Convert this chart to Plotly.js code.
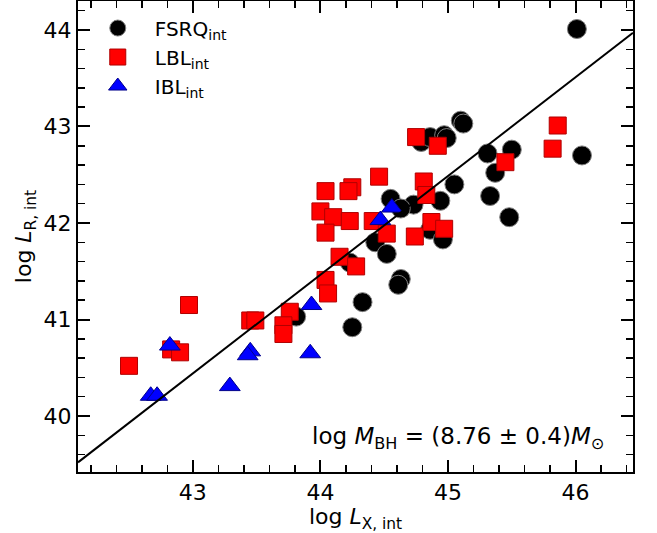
<!DOCTYPE html>
<html>
<head>
<meta charset="utf-8">
<script src="https://cdn.plot.ly/plotly-3.0.1.min.js"></script>
<style>html,body{margin:0;padding:0;background:#fff;}#chart{width:657px;height:533px;}</style>
</head>
<body>
<div id="chart"></div>
<script>
// FSRQ_int (black circles)
const fsrqX = [46.01, 46.05, 45.50, 45.31, 45.37, 45.33, 45.48, 45.05, 44.94, 44.73, 44.55, 44.63, 44.43, 44.52, 44.86, 44.96, 45.10, 45.12, 44.79, 44.86, 44.97, 44.99, 44.63, 44.61, 44.33, 44.25, 43.81, 44.23];
const fsrqY = [44.01, 42.70, 42.76, 42.72, 42.52, 42.28, 42.06, 42.40, 42.23, 42.19, 42.25, 42.15, 41.80, 41.68, 41.93, 41.83, 43.06, 43.03, 42.84, 42.89, 42.91, 42.88, 41.42, 41.36, 41.18, 40.92, 41.03, 41.59];
// LBL_int (red squares)
const lblX = [45.86, 45.82, 45.45, 44.75, 44.92, 44.46, 44.81, 44.83, 44.25, 44.22, 44.04, 44.00, 44.10, 44.23, 44.41, 44.04, 44.52, 44.74, 44.87, 44.97, 44.15, 44.28, 44.04, 44.06, 43.76, 43.71, 43.71, 43.45, 43.49, 42.97, 42.83, 42.90, 42.50];
const lblY = [43.01, 42.77, 42.63, 42.89, 42.80, 42.48, 42.43, 42.29, 42.37, 42.33, 42.33, 42.12, 42.06, 42.02, 42.02, 41.90, 41.89, 41.86, 42.01, 41.94, 41.65, 41.55, 41.41, 41.27, 41.08, 40.94, 40.85, 40.99, 40.99, 41.15, 40.69, 40.66, 40.52];
// IBL_int (blue triangles)
const iblX = [42.82, 42.67, 42.72, 43.29, 43.45, 43.43, 43.93, 43.92, 44.56, 44.47];
const iblY = [40.73, 40.21, 40.21, 40.31, 40.67, 40.63, 41.15, 40.65, 42.16, 42.03];
// best-fit line endpoints
const fitX = [42.1, 46.45];
const fitY = [39.52, 43.97];

const names = ['FSRQ<sub>int</sub>', 'LBL<sub>int</sub>', 'IBL<sub>int</sub>'];
const FONT = 'DejaVu Sans, sans-serif';

const traces = [
  {x: fsrqX, y: fsrqY, mode: 'markers', type: 'scatter', name: names[0],
   marker: {symbol: 'circle', size: 19, color: '#000000', line: {color: '#7f7f7f', width: 1}}},
  {x: lblX, y: lblY, mode: 'markers', type: 'scatter', name: names[1],
   marker: {symbol: 'square', size: 17, color: '#ff0000', line: {color: '#b00000', width: 1}}},
  {x: iblX, y: iblY, mode: 'markers', type: 'scatter', name: names[2],
   marker: {symbol: 'triangle-up', size: 18, color: '#0000ff', line: {color: '#00008b', width: 1}}},
  {x: fitX, y: fitY, mode: 'lines', type: 'scatter', showlegend: false,
   line: {color: '#000000', width: 2}}
];

const axisCommon = {
  showgrid: false, zeroline: false, showline: true, linecolor: '#000', linewidth: 2,
  mirror: 'allticks', ticks: 'inside', ticklen: 12, tickwidth: 2, tickcolor: '#000',
  tickfont: {family: FONT, size: 22, color: '#000'},
  minor: {ticks: 'inside', ticklen: 7, tickwidth: 1.5, tickcolor: '#000', dtick: 0.2, showgrid: false}
};

const layout = {
  width: 657, height: 533,
  margin: {l: 78, r: 24, t: 1, b: 61},
  paper_bgcolor: '#fff', plot_bgcolor: '#fff',
  font: {family: FONT, color: '#000'},
  xaxis: Object.assign({}, axisCommon, {
    range: [42.1, 46.45], dtick: 1, tick0: 43,
    title: {text: 'log <i>L</i><sub>X, int</sub>', font: {family: FONT, size: 22}, standoff: 0}
  }),
  yaxis: Object.assign({}, axisCommon, {
    range: [39.42, 44.3], dtick: 1, tick0: 40,
    title: {text: 'log <i>L</i><sub>R, int</sub>', font: {family: FONT, size: 22}, standoff: 6}
  }),
  showlegend: true,
  legend: {x: 0.005, y: 0.984, xanchor: 'left', yanchor: 'top', bgcolor: 'rgba(0,0,0,0)',
           borderwidth: 0, font: {family: FONT, size: 20}, itemwidth: 64, itemsizing: 'trace'},
  annotations: [{
    xref: 'paper', yref: 'paper', x: 0.952, y: 0.072, xanchor: 'right', yanchor: 'middle',
    showarrow: false, text: 'log <i>M</i><sub>BH</sub> = (8.76 ± 0.4)<i>M</i><sub>⊙</sub>',
    font: {family: FONT, size: 23, color: '#000'}
  }]
};

Plotly.newPlot('chart', traces, layout, {displayModeBar: false, staticPlot: true});
</script>
</body>
</html>
